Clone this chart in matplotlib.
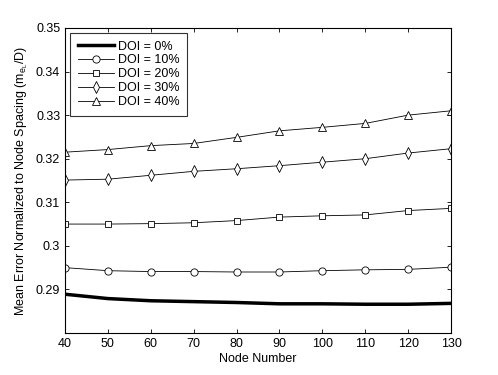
import matplotlib
matplotlib.use("Agg")
import matplotlib.pyplot as plt

plt.rcParams['font.family'] = ['Liberation Sans', 'DejaVu Sans']
plt.rcParams['mathtext.fontset'] = 'custom'
plt.rcParams['mathtext.rm'] = 'Liberation Sans'
plt.rcParams['mathtext.it'] = 'Liberation Sans'

nodes = [40, 50, 60, 70, 80, 90, 100, 110, 120, 130]
doi0 = [0.2889, 0.2879, 0.2874, 0.2872, 0.2870, 0.2867, 0.2867, 0.2866, 0.2866, 0.2868]
doi10 = [0.2950, 0.2943, 0.2941, 0.2941, 0.2940, 0.2940, 0.2943, 0.2945, 0.2946, 0.2951]
doi20 = [0.3050, 0.3050, 0.3051, 0.3053, 0.3058, 0.3066, 0.3069, 0.3071, 0.3081, 0.3086]
doi30 = [0.3151, 0.3153, 0.3162, 0.3171, 0.3177, 0.3184, 0.3192, 0.3200, 0.3213, 0.3223]
doi40 = [0.3215, 0.3221, 0.3230, 0.3235, 0.3249, 0.3264, 0.3272, 0.3281, 0.3300, 0.3310]
labels = ['DOI = 0%', 'DOI = 10%', 'DOI = 20%', 'DOI = 30%', 'DOI = 40%']
xticks = [40, 50, 60, 70, 80, 90, 100, 110, 120, 130]
yticks = [0.29, 0.30, 0.31, 0.32, 0.33, 0.34, 0.35]
yticklabels = ['0.29', '0.3', '0.31', '0.32', '0.33', '0.34', '0.35']

fig = plt.figure(figsize=(4.98, 3.75), dpi=100)
ax = fig.add_axes([65/498, 42/375, 386/498, 305/375])

ax.plot(nodes, doi0, color='black', lw=2.5, label=labels[0])
ax.plot(nodes, doi10, color='black', lw=0.6, marker='o', ms=5.2, mfc='white', mew=0.6, label=labels[1])
ax.plot(nodes, doi20, color='black', lw=0.6, marker='s', ms=4.3, mfc='white', mew=0.6, label=labels[2])
ax.plot(nodes, doi30, color='black', lw=0.6, marker='d', ms=5.8, mfc='white', mew=0.6, label=labels[3])
ax.plot(nodes, doi40, color='black', lw=0.6, marker='^', ms=5.5, mfc='white', mew=0.6, label=labels[4])

ax.set_xlim(40, 130)
ax.set_ylim(0.28, 0.35)
ax.set_xticks(xticks)
ax.set_yticks(yticks)
ax.set_yticklabels(yticklabels)
ax.tick_params(direction='in', top=True, right=True, labelsize=9, length=3, width=0.6)
for s in ax.spines.values():
    s.set_linewidth(0.8)

ax.set_xlabel('Node Number', fontsize=9, labelpad=2)
ax.set_ylabel(r'Mean Error Normalized to Node Spacing (m$_{e_L}$/D)', fontsize=9, labelpad=4)

leg = ax.legend(loc='upper left', fontsize=9, frameon=True, fancybox=False,
                edgecolor='black', handlelength=2.9, borderpad=0.6, labelspacing=0.15,
                handletextpad=0.3, borderaxespad=0.4)
leg.get_frame().set_linewidth(0.8)

fig.savefig('out.png', dpi=100)
